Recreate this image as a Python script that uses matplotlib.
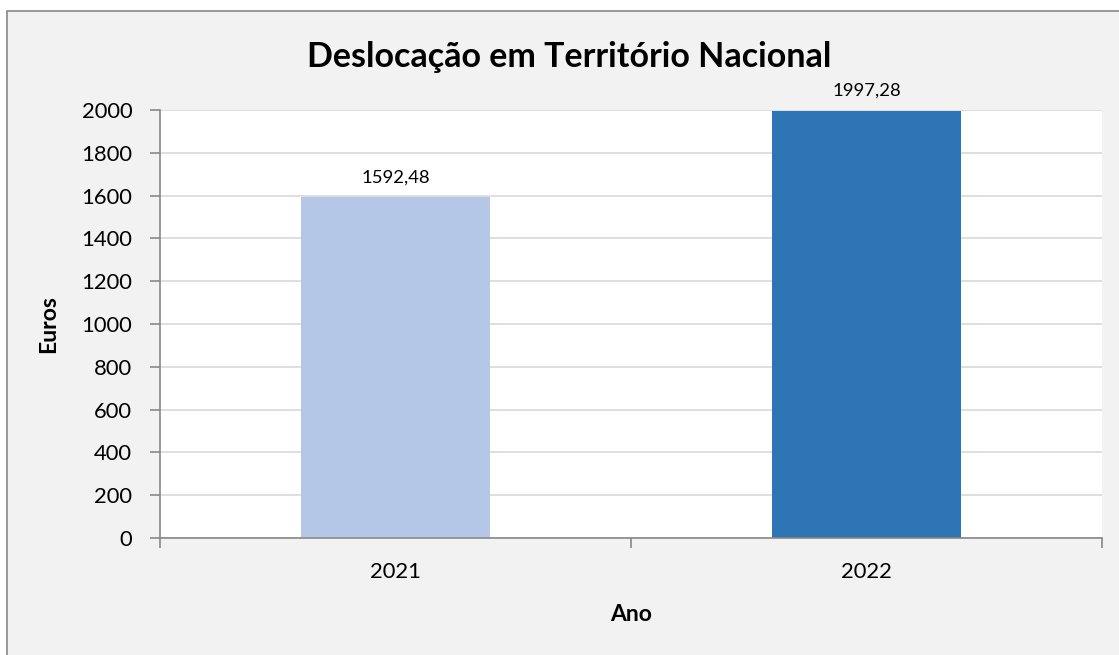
import matplotlib
matplotlib.use("Agg")
import matplotlib.pyplot as plt
from matplotlib.patches import Rectangle

years = ["2021", "2022"]
values = [1592.48, 1997.28]
labels = ["1592,48", "1997,28"]
colors = ["#b4c7e7", "#2e75b6"]
yticks = [0, 200, 400, 600, 800, 1000, 1200, 1400, 1600, 1800, 2000]

plt.rcParams['font.family'] = ['Lato', 'DejaVu Sans']

W, H = 1119, 655
fig = plt.figure(figsize=(W / 100, H / 100), dpi=100)
fig.patch.set_facecolor('white')
bg = Rectangle((7 / W, -0.1), 1.2, (H - 11) / H + 0.1, transform=fig.transFigure,
               facecolor='#f2f2f2', edgecolor='#888888', linewidth=1.2)
bg.set_zorder(-10)
fig.add_artist(bg)

ax = fig.add_axes([160 / W, 1 - 538 / H, (1102 - 160) / W, (538 - 110) / H])
ax.set_zorder(5)
ax.set_facecolor('white')
x = list(range(len(years)))
ax.bar(x, values, width=0.4, color=colors, zorder=3)
for xi, v, lab in zip(x, values, labels):
    ax.text(xi, v + 55, lab, ha='center', va='bottom', fontsize=13.3, color='#000000')

ax.set_xlim(-0.5, 1.5)
ax.set_ylim(0, 2000)
ax.set_yticks(yticks)
ax.set_yticklabels([str(t) for t in yticks], fontsize=15.8)
ax.set_xticks(x)
ax.set_xticklabels(years, fontsize=15.8)
ax.tick_params(axis='x', length=0, pad=17)
ax.set_xticks([-0.5, 0.5, 1.5], minor=True)
ax.tick_params(axis='x', which='minor', length=7, color='#888888', width=1.2, direction='out')
ax.tick_params(axis='y', length=7, color='#888888', width=1.2, direction='out', pad=13)
ax.grid(axis='y', color='#d9d9d9', linewidth=1.2, zorder=0)
ax.set_axisbelow(True)
for s in ['top', 'right']:
    ax.spines[s].set_visible(False)
for s in ['left', 'bottom']:
    ax.spines[s].set_color('#888888')
    ax.spines[s].set_linewidth(1.2)
    ax.spines[s].set_zorder(4)

ax.set_ylabel('Euros', fontsize=16.5, fontweight='bold', labelpad=16)
ax.set_xlabel('Ano', fontsize=16.5, fontweight='bold', labelpad=16)
fig.text(569 / W, 1 - 67 / H, 'Deslocação em Território Nacional', ha='center', va='baseline',
         fontsize=24.5, fontweight='bold')

fig.savefig('out.png', dpi=100, facecolor=fig.get_facecolor())
